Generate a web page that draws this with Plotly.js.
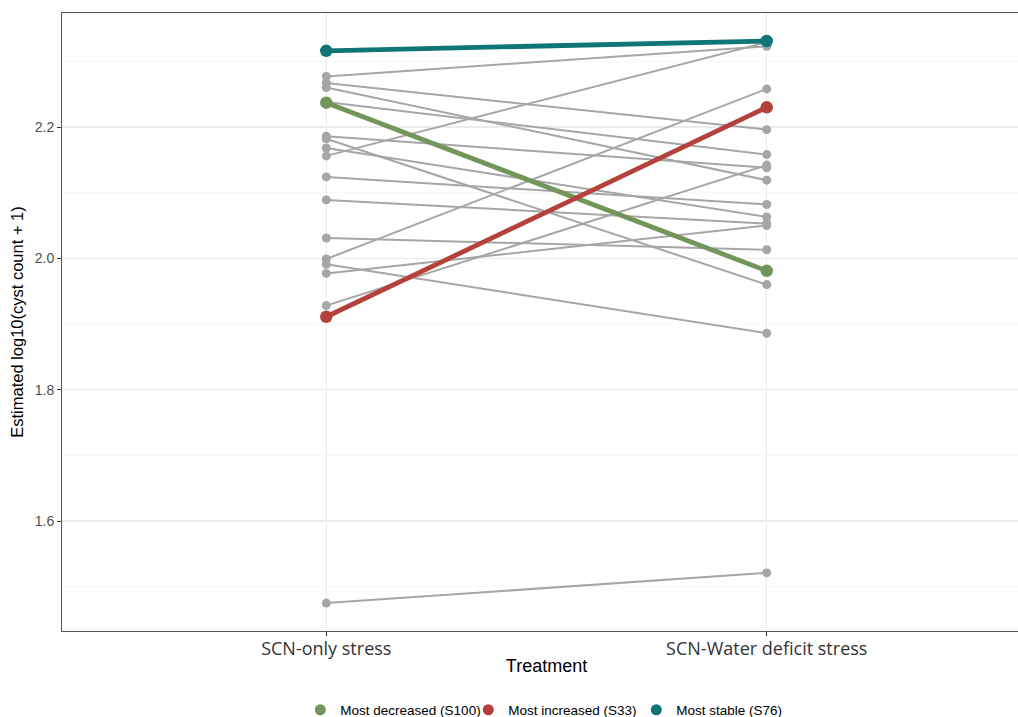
<!DOCTYPE html>
<html>
<head>
<meta charset="utf-8">
<script src="https://cdn.plot.ly/plotly-3.0.1.min.js"></script>
<style>
  html, body { margin: 0; padding: 0; background: #ffffff; overflow: hidden; }
  #chart { width: 1040px; height: 717px; }
</style>
</head>
<body>
<div id="chart"></div>
<script>
// Treatments on the x axis
const treatments = ['SCN-only stress', 'SCN-Water deficit stress'];

// Background samples: estimated log10(cyst count + 1) per treatment
const otherOnly  = [2.277, 2.267, 2.260, 2.238, 2.186, 2.182, 2.168, 2.156, 2.124, 2.089, 2.031, 1.999, 1.991, 1.977, 1.928, 1.475];
const otherWater = [2.323, 2.196, 2.119, 2.158, 2.138, 1.960, 2.063, 2.329, 2.082, 2.053, 2.013, 2.258, 1.886, 2.050, 2.142, 1.521];

// Highlighted samples
const highlightNames  = ['Most decreased (S100)', 'Most increased (S33)', 'Most stable (S76)'];
const highlightOnly   = [2.237, 1.911, 2.316];
const highlightWater  = [1.981, 2.230, 2.331];
const highlightColors = ['#739559', '#B4413C', '#0F7575'];

const traces = [];

// Grey lines for every other sample
otherOnly.forEach((v, i) => {
  traces.push({
    type: 'scatter',
    mode: 'lines+markers',
    x: treatments,
    y: [v, otherWater[i]],
    line: { color: '#A6A6A6', width: 2 },
    marker: { color: '#A6A6A6', size: 9 },
    showlegend: false,
    hoverinfo: 'skip'
  });
});

// Highlighted samples, thicker lines
highlightNames.forEach((name, i) => {
  traces.push({
    type: 'scatter',
    mode: 'lines+markers',
    x: treatments,
    y: [highlightOnly[i], highlightWater[i]],
    line: { color: highlightColors[i], width: 4.8 },
    marker: { color: highlightColors[i], size: 12.5 },
    name: name,
    showlegend: false,
    hoverinfo: 'skip'
  });
});

// Legend entries show only the point symbol
highlightNames.forEach((name, i) => {
  traces.push({
    type: 'scatter',
    mode: 'markers',
    x: [null],
    y: [null],
    marker: { color: highlightColors[i], size: 11 },
    name: name,
    showlegend: true,
    hoverinfo: 'skip'
  });
});

// The panel runs a little past the right edge of the page
const layout = {
  width: 1040,
  height: 717,
  margin: { l: 62, r: 9, t: 13, b: 86, autoexpand: false },
  paper_bgcolor: '#ffffff',
  plot_bgcolor: '#ffffff',
  font: { family: 'Liberation Sans, Arial, sans-serif', color: '#000000' },
  xaxis: {
    type: 'category',
    categoryorder: 'array',
    categoryarray: treatments,
    range: [-0.6, 1.6],
    automargin: false,
    showgrid: true,
    gridcolor: '#EBEBEB',
    gridwidth: 1.1,
    zeroline: false,
    showline: true,
    linecolor: '#555555',
    linewidth: 1,
    mirror: true,
    ticks: 'outside',
    ticklen: 4,
    tickcolor: '#333333',
    ticklabelstandoff: -3,
    tickfont: { family: 'Open Sans, sans-serif', size: 18, color: '#333333' },
    title: {
      text: 'Treatment',
      font: { family: 'Liberation Sans, Arial, sans-serif', size: 18, color: '#000000' },
      standoff: 0
    }
  },
  yaxis: {
    range: [1.4325, 2.3736],
    tick0: 0,
    dtick: 0.2,
    tickformat: '.1f',
    automargin: false,
    showgrid: true,
    gridcolor: '#EBEBEB',
    gridwidth: 1.1,
    minor: { dtick: 0.1, tick0: 0, showgrid: true, gridcolor: '#F3F3F3', gridwidth: 0.6, ticks: '' },
    zeroline: false,
    showline: true,
    linecolor: '#555555',
    linewidth: 1,
    mirror: false,
    ticks: 'outside',
    ticklen: 4,
    tickcolor: '#333333',
    tickfont: { family: 'Liberation Sans, Arial, sans-serif', size: 14, color: '#4D4D4D' },
    title: {
      text: 'Estimated log10(cyst count + 1)',
      font: { family: 'Liberation Sans, Arial, sans-serif', size: 16.5, color: '#000000' },
      standoff: 6
    }
  },
  showlegend: true,
  legend: {
    orientation: 'h',
    xref: 'paper',
    x: 0.506,
    xanchor: 'center',
    yref: 'container',
    y: 0.0098,
    yanchor: 'middle',
    entrywidth: 123,
    entrywidthmode: 'pixels',
    font: { family: 'Liberation Sans, Arial, sans-serif', size: 13.5, color: '#000000' },
    bgcolor: 'rgba(0,0,0,0)'
  }
};

Plotly.newPlot('chart', traces, layout, { staticPlot: true, displayModeBar: false });
</script>
</body>
</html>
